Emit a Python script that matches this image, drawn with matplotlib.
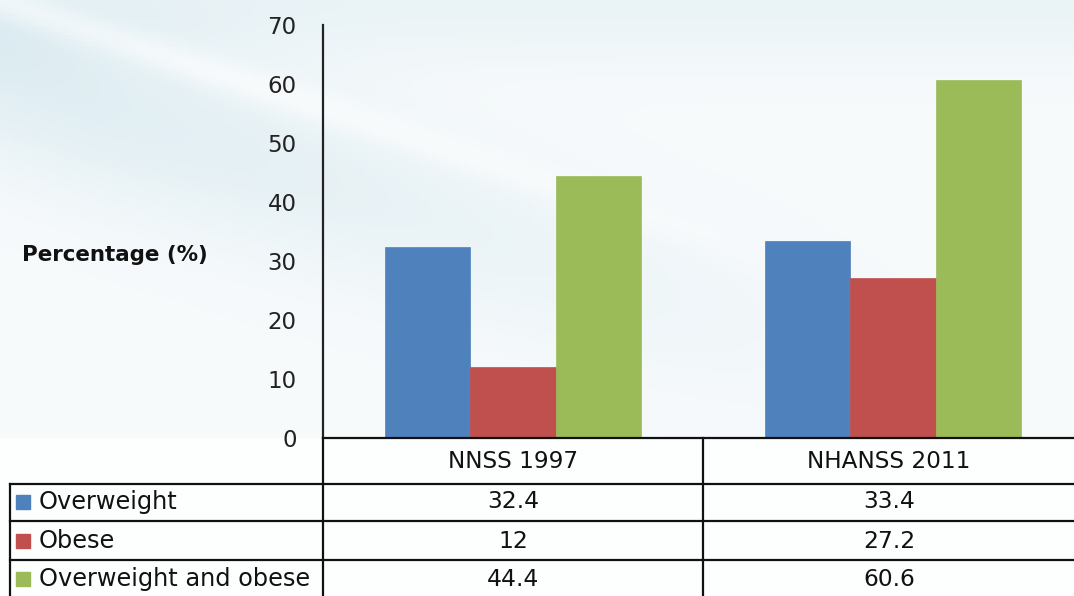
import numpy as np
import matplotlib
matplotlib.use("Agg")
import matplotlib.pyplot as plt
from matplotlib.lines import Line2D

# data
surveys = ["NNSS 1997", "NHANSS 2011"]
series = ["Overweight", "Obese", "Overweight and obese"]
overweight = [32.4, 33.4]
obese = [12, 27.2]
both = [44.4, 60.6]
value_labels = [["32.4", "33.4"], ["12", "27.2"], ["44.4", "60.6"]]
colors = ["#4F81BD", "#C0504D", "#9BBB59"]
yticks = [0, 10, 20, 30, 40, 50, 60, 70]

plt.rcParams['font.family'] = ['DejaVu Sans']

W, H = 1074, 596
fig = plt.figure(figsize=(W / 100, H / 100), dpi=100)

def fx(px):
    return px / W

def fy(py):
    return 1 - py / H

# soft background swoosh
bg = fig.add_axes([0, 0, 1, 1], zorder=-10)
xx, yy = np.meshgrid(np.linspace(0, 1, 300), np.linspace(0, 1, 170))
d = yy - (0.02 + 0.6 * xx)
band = np.exp(-((d - 0.10) / 0.16) ** 2) * np.clip(1.1 - xx * 1.2, 0, 1) * 0.5
top = np.exp(-((yy - 0.0) / 0.10) ** 2) * 0.3
streak = np.exp(-((d + 0.02) / 0.03) ** 2) * np.clip(0.8 - xx, 0, 1)
v = np.clip(band + top - streak * 0.5, 0, 1)
base = np.array([0.97, 0.982, 0.988])
tint = np.array([0.80, 0.89, 0.92])
img = base[None, None, :] * (1 - v[..., None]) + tint[None, None, :] * v[..., None]
bg.imshow(img, extent=[0, 1, 0, 1], aspect="auto", origin="upper")
bg.axis("off")
# white area behind the table
bg.fill_between([0, 1], 0, fy(438), color="white", alpha=0.85)
bg.set_xlim(0, 1)
bg.set_ylim(0, 1)

# main axes: y=0 at px 438, y=70 at px 25, category width 380 px
ax = fig.add_axes([fx(323), fy(438), 760 / W, 413 / H])
ax.set_facecolor("none")
x = np.arange(len(surveys))
bw = 0.224
for i, vals in enumerate([overweight, obese, both]):
    ax.bar(x + (i - 1) * bw, vals, bw, color=colors[i], edgecolor=colors[i], linewidth=0.5)
ax.set_xlim(-0.5, 1.5)
ax.set_ylim(0, 70)
ax.set_yticks(yticks)
ax.tick_params(axis="y", length=0, pad=19, labelsize=16.5, colors="#222222")
ax.set_xticks([])
for s in ["top", "right", "bottom"]:
    ax.spines[s].set_visible(False)
ax.spines["left"].set_linewidth(1.6)
ax.spines["left"].set_color("#222222")

fig.text(fx(22), fy(255), "Percentage (%)", fontsize=15.4, fontweight="bold",
         ha="left", va="center", color="#111111")

# data table underneath
lc = "#111111"
lw = 1.6
def hline(py, x0, x1):
    fig.add_artist(Line2D([fx(x0), fx(x1)], [fy(py), fy(py)], color=lc, lw=lw))

def vline(px, y0, y1):
    fig.add_artist(Line2D([fx(px), fx(px)], [fy(y0), fy(y1)], color=lc, lw=lw))

hline(438, 323, 1074)
for py in [484, 521, 560]:
    hline(py, 10, 1074)
vline(323, 438, 596)
vline(703, 438, 596)
vline(10, 484, 596)

col_centers = [513, 889]
for j, name in enumerate(surveys):
    fig.text(fx(col_centers[j]), fy(462), name, fontsize=16.7, ha="center", va="center", color="#111111")

row_centers = [502, 541, 579]
for i, name in enumerate(series):
    fig.add_artist(plt.Rectangle((fx(16), fy(row_centers[i] + 7)), 14 / W, 14 / H,
                                 color=colors[i], transform=fig.transFigure))
    fig.text(fx(39), fy(row_centers[i]), name, fontsize=17.3, ha="left", va="center", color="#111111")
    for j in range(len(surveys)):
        fig.text(fx(col_centers[j]), fy(row_centers[i]), value_labels[i][j], fontsize=16.8,
                 ha="center", va="center", color="#111111")

fig.savefig("out.png", dpi=100)
